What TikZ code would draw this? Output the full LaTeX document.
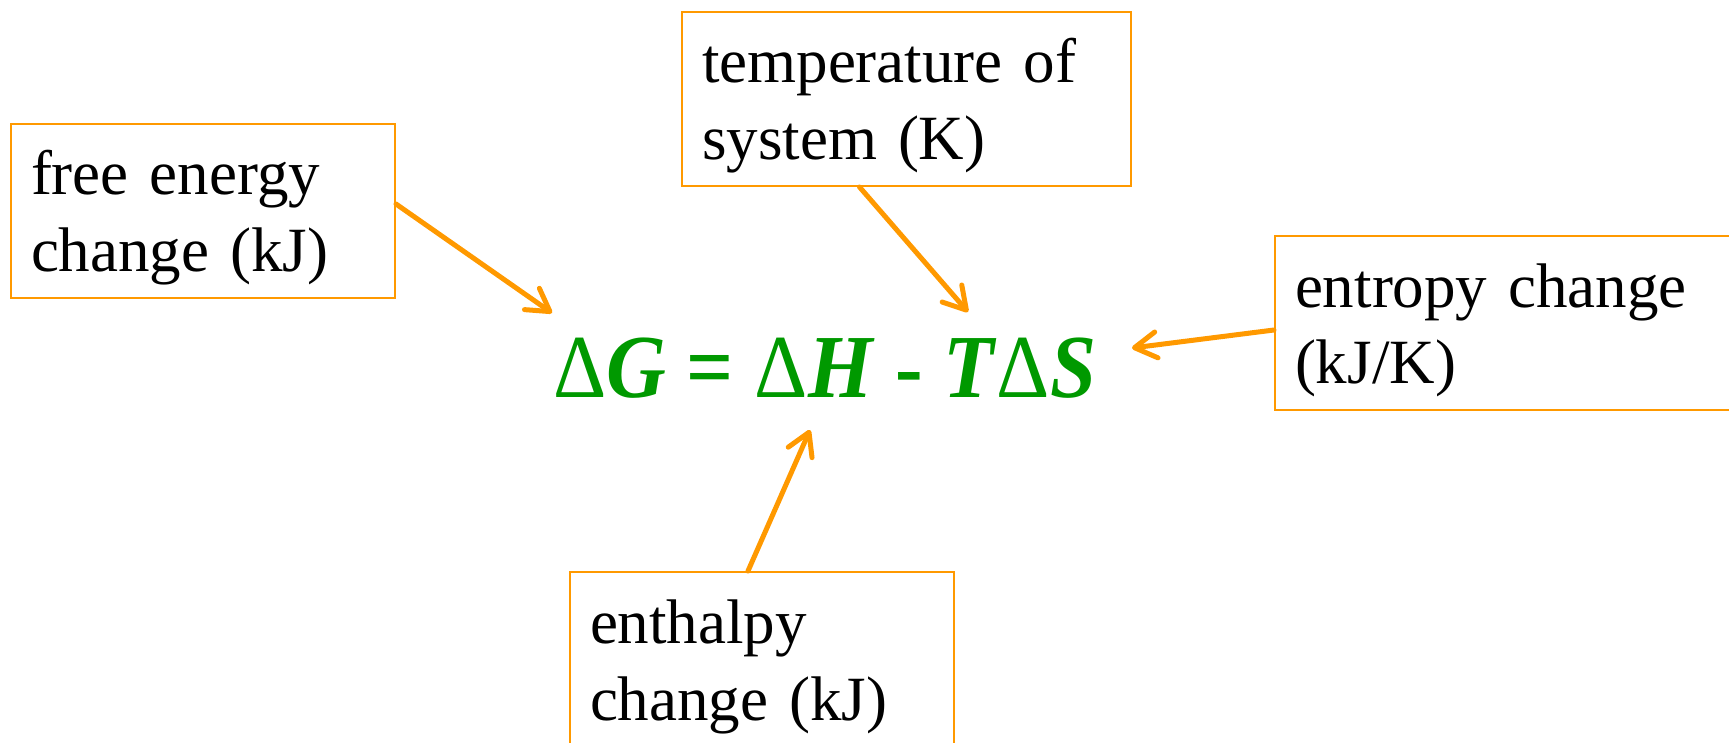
\documentclass[tikz,border=0pt]{standalone}
\usepackage{fontspec}
\setmainfont{Liberation Serif}
\usetikzlibrary{arrows.meta}
\definecolor{boxorange}{RGB}{255,153,0}
\definecolor{eqgreen}{RGB}{0,153,0}
\newcommand{\firststrut}{\rule{0pt}{71pt}}
\newcommand{\laststrut}{\rule[-26pt]{0pt}{0pt}}
\newcommand{\dlt}{{\mdseries Δ}}
\tikzset{
  labelbox/.style={draw=boxorange, line width=2pt, fill=white, rectangle, anchor=north west,
    align=left, inner xsep=20pt, inner ysep=0pt,
    font=\fontsize{63}{77}\selectfont},
  arr/.style={draw=boxorange, line width=5pt, line cap=round,
    -{Straight Barb[length=22pt,width=26pt,line cap=round,line join=round]}}
}
\begin{document}
\begin{tikzpicture}[x=1pt,y=-1pt]
\useasboundingbox (0,0) rectangle (1729,743);
\node[labelbox, text width=344pt] (b1) at (10,123) {\firststrut free energy\\change (kJ)\laststrut};
\node[labelbox, text width=409pt] (b2) at (681,11) {\firststrut temperature of\\system (K)\laststrut};
\node[labelbox, text width=440pt] (b3) at (1274,235) {\firststrut entropy change\\(kJ/K)\laststrut};
\node[labelbox, text width=344pt] (b4) at (569,571) {\firststrut enthalpy\\change (kJ)\laststrut};
\node[anchor=base west, inner sep=0pt, text=eqgreen, font=\fontsize{90}{90}\selectfont\bfseries] (eq) at (553,397)
  {\scalebox{0.92}[1]{\dlt\textit{G} = \dlt\textit{H} - \textit{T}\dlt\textit{S}}};
\coordinate (t1) at (552,313);
\coordinate (t2) at (968,312);
\coordinate (t3) at (1132,348);
\coordinate (t4) at (810,430);
\draw[arr] ([yshift=7pt]b1.east) -- (t1);
\draw[arr] ([xshift=-47pt]b2.south) -- (t2);
\draw[arr] ([yshift=-7pt]b3.west) -- (t3);
\draw[arr] ([xshift=-14pt]b4.north) -- (t4);
\end{tikzpicture}
\end{document}
